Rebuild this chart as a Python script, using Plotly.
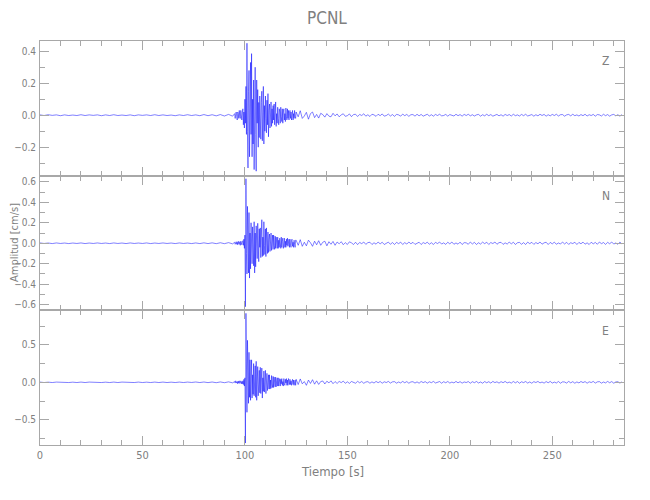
import numpy as np
import plotly.graph_objects as go
from plotly.subplots import make_subplots

# ---------------- data (cm/s) ----------------
STATION = "PCNL"
COMPONENTS = ["Z", "N", "E"]

# sampling of the three segments of each trace (start time, sample interval in s)
PRE_T0, PRE_DT = 0.0, 2.0
ACT_T0, ACT_DT = 95.0, 0.25
TAIL_T0, TAIL_DT = 125.0, 1.0

Z_PRE = [0.002, -0.002, 0.003, -0.001, 0.002, -0.003, 0.002, -0.002, 0.001, -0.002,
         0.003, -0.002, 0.002, -0.001, 0.002, -0.003, 0.002, -0.002, 0.003, -0.002,
         0.001, -0.002, 0.002, -0.003, 0.002, -0.001, 0.002, -0.002, 0.003, -0.002,
         0.002, -0.002, 0.001, -0.003, 0.002, -0.002, 0.003, -0.002, 0.002, -0.003,
         0.004, -0.003, 0.003, -0.004, 0.004, -0.005, 0.005, -0.006]
Z_ACT = [0.01, -0.02, 0.005, 0.02, -0.01, -0.03, 0.02, 0.01, -0.02, 0.03, -0.01, -0.02, 0.03, 0.01, -0.03, 0.02,
         0.04, -0.06, 0.02, -0.08,
         0.10, -0.05, 0.18, -0.12,
         0.45, -0.10, -0.33, 0.15,
         0.28, -0.26, 0.05, 0.33,
         -0.12, 0.385, -0.26, 0.10,
         -0.18, 0.22, -0.34, 0.05,
         0.30, -0.12, -0.35, 0.22,
         -0.05, 0.16, -0.20, 0.08,
         -0.14, 0.12, 0.03, -0.15,
         0.08, 0.15, -0.16, -0.04,
         0.18, -0.18, 0.06, -0.10,
         0.12, -0.02, -0.11, 0.094,
         -0.06, 0.135, -0.135, 0.03,
         0.07, -0.08, 0.02, 0.083,
         -0.07, 0.04, -0.05, 0.06,
         -0.03, 0.07, -0.06, 0.02,
         0.083, -0.07, 0.01, -0.05,
         0.05, -0.02, -0.06, 0.04,
         0.02, -0.05, 0.05, -0.01,
         -0.04, 0.04, -0.05, 0.02,
         0.04, -0.03, 0.01, -0.04,
         0.045, -0.01, -0.03, 0.04,
         -0.02, 0.03, -0.03, 0.01,
         0.03, -0.02, 0.02, -0.03,
         0.01, 0.03, -0.03, 0.01,
         -0.02, 0.03, -0.01, -0.02]
Z_TAIL = [0.02, -0.01, 0.028, -0.02, -0.005, 0.018, -0.025, 0.01, 0.02, -0.015,
          0.005, -0.018, 0.012, 0.004, -0.012, 0.01, -0.006, -0.01, 0.012, -0.004,
          0.008, -0.01, 0.002, 0.009, -0.007, -0.003, 0.008, -0.009, 0.004, 0.006,
          -0.008, 0.005, -0.002, 0.009, -0.006, 0.003, -0.008, 0.006, 0.002, -0.007,
          0.006, -0.003, 0.008, -0.006, -0.002, 0.007, -0.005, 0.004, -0.007, 0.005,
          0.002, -0.006, 0.007, -0.003, 0.005, -0.007, 0.003, 0.004, -0.006, 0.006,
          -0.004, 0.005, -0.006, 0.002, 0.006, -0.005, 0.003, -0.006, 0.005, -0.002,
          0.006, -0.004, -0.002, 0.005, -0.006, 0.004, 0.001, -0.005, 0.006, -0.003,
          0.004, -0.006, 0.005, -0.002, 0.006, -0.004, 0.003, -0.005, 0.002, 0.005,
          -0.006, 0.003, -0.004, 0.006, -0.003, 0.004, -0.006, 0.002, 0.005, -0.004,
          0.003, -0.006, 0.005, -0.002, 0.004, -0.005, 0.006, -0.003, 0.002, -0.005,
          0.005, -0.003, 0.006, -0.005, 0.002, 0.004, -0.006, 0.003, -0.004, 0.006,
          -0.002, 0.005, -0.006, 0.003, -0.004, 0.005, -0.002, 0.006, -0.005, 0.003,
          0.004, -0.006, 0.002, 0.005, -0.004, 0.006, -0.003, 0.002, -0.005, 0.004,
          -0.003, 0.006, -0.005, 0.003, -0.002, 0.005, -0.006, 0.004, 0.002, -0.005,
          0.006, -0.003, 0.004, -0.006, 0.002, 0.005, -0.004, 0.003, -0.006, 0.004]

N_PRE = [0.003, -0.002, 0.002, -0.003, 0.003, -0.002, 0.002, -0.003, 0.002, -0.002,
         0.003, -0.003, 0.002, -0.002, 0.003, -0.002, 0.002, -0.003, 0.003, -0.002,
         0.002, -0.003, 0.003, -0.002, 0.002, -0.002, 0.003, -0.003, 0.002, -0.002,
         0.003, -0.002, 0.002, -0.003, 0.003, -0.002, 0.002, -0.003, 0.003, -0.003,
         0.004, -0.003, 0.004, -0.004, 0.005, -0.004, 0.006, -0.006]
N_ACT = [0.01, -0.01, 0.005, 0.015, -0.01, 0.01, -0.015, 0.02, -0.005, -0.01, 0.015, -0.02, 0.02, -0.01, -0.015, 0.02,
         0.025, -0.02, 0.04, -0.05,
         0.08, -0.62, 0.63, -0.10,
         -0.30, 0.36, -0.05, -0.29,
         0.30, -0.34, 0.10, -0.25,
         0.20, -0.05, -0.20, 0.16,
         0.05, -0.22, 0.21, -0.29,
         0.10, -0.23, 0.17, -0.05,
         -0.15, 0.195, -0.08, -0.18,
         0.14, -0.04, 0.15, -0.14,
         0.05, 0.23, -0.13, 0.06,
         -0.12, 0.21, -0.02, -0.11,
         0.14, -0.13, 0.15, -0.04,
         -0.10, 0.11, -0.09, 0.04,
         0.09, -0.08, 0.02, 0.10,
         -0.07, 0.03, 0.08, -0.06,
         0.08, -0.02, -0.06, 0.07,
         -0.05, 0.06, -0.01, -0.05,
         0.06, -0.05, 0.03, -0.04,
         0.05, -0.02, -0.05, 0.06,
         -0.04, 0.02, 0.05, -0.05,
         0.01, 0.05, -0.04, 0.02,
         -0.04, 0.04, -0.02, 0.05,
         -0.03, 0.01, 0.04, -0.04,
         0.04, -0.02, -0.04, 0.03,
         0.04, -0.03, 0.01, -0.04,
         0.03, -0.01, -0.04, 0.03]
N_TAIL = [0.03, -0.02, 0.035, -0.03, 0.01, -0.025, 0.03, 0.005, -0.03, 0.02,
          -0.015, 0.025, -0.02, 0.01, 0.02, -0.025, 0.015, -0.01, 0.018, -0.02,
          0.012, -0.005, 0.015, -0.014, 0.006, -0.012, 0.014, 0.004, -0.012, 0.01,
          -0.013, 0.008, -0.004, 0.012, -0.011, 0.006, 0.01, -0.012, 0.005, -0.009,
          0.012, -0.006, 0.01, -0.012, 0.003, 0.011, -0.01, 0.007, -0.012, 0.009,
          -0.004, 0.011, -0.012, 0.006, -0.008, 0.012, -0.005, 0.009, -0.011, 0.004,
          0.01, -0.012, 0.007, -0.004, 0.011, -0.01, 0.005, -0.012, 0.009, -0.003,
          0.012, -0.008, 0.004, -0.011, 0.01, -0.006, 0.012, -0.01, 0.003, -0.009,
          0.011, -0.012, 0.006, 0.004, -0.01, 0.012, -0.007, 0.009, -0.012, 0.005,
          -0.008, 0.011, -0.004, 0.01, -0.012, 0.007, -0.003, 0.012, -0.01, 0.006,
          0.009, -0.011, 0.004, -0.008, 0.012, -0.006, 0.01, -0.012, 0.005, 0.008,
          -0.01, 0.006, -0.012, 0.011, -0.004, 0.009, -0.011, 0.007, -0.005, 0.012,
          -0.009, 0.004, 0.01, -0.012, 0.008, -0.006, 0.011, -0.01, 0.003, -0.008,
          0.012, -0.007, 0.009, -0.011, 0.005, -0.003, 0.01, -0.012, 0.008, -0.005,
          0.011, -0.009, 0.004, -0.012, 0.01, -0.006, 0.008, -0.01, 0.012, -0.004,
          0.007, -0.011, 0.009, -0.005, 0.012, -0.008, 0.003, -0.01, 0.011, -0.007]

E_PRE = [0.003, -0.003, 0.002, -0.003, 0.003, -0.002, 0.003, -0.003, 0.002, -0.003,
         0.003, -0.003, 0.003, -0.002, 0.003, -0.003, 0.002, -0.003, 0.003, -0.003,
         0.003, -0.002, 0.003, -0.003, 0.003, -0.003, 0.002, -0.003, 0.003, -0.003,
         0.003, -0.003, 0.002, -0.003, 0.003, -0.003, 0.003, -0.002, 0.004, -0.003,
         0.004, -0.004, 0.004, -0.005, 0.005, -0.005, 0.006, -0.007]
E_ACT = [0.01, -0.01, 0.02, 0.005, -0.01, 0.01, -0.02, 0.015, -0.01, 0.02, -0.015, -0.005, 0.02, -0.02, 0.01, -0.02,
         0.02, -0.03, 0.04, -0.05,
         0.06, -0.81, 0.92, -0.15,
         -0.40, 0.56, -0.10, -0.28,
         0.40, -0.20, 0.30, -0.24,
         0.05, 0.30, -0.21, 0.10,
         -0.16, 0.25, -0.18, 0.02,
         0.22, -0.20, 0.28, -0.24,
         0.05, 0.21, -0.18, -0.06,
         0.16, -0.14, 0.20, -0.15,
         0.03, 0.19, -0.21, 0.06,
         -0.12, 0.15, -0.13, 0.04,
         0.16, -0.15, 0.02, 0.12,
         -0.11, 0.05, 0.10, -0.09,
         0.10, -0.09, 0.03, -0.08,
         0.09, -0.02, -0.07, 0.08,
         -0.07, 0.07, -0.03, -0.06,
         0.07, -0.06, 0.02, 0.06,
         -0.05, 0.06, -0.05, 0.01,
         0.05, -0.05, 0.04, -0.02,
         0.05, -0.04, 0.01, -0.05,
         0.05, -0.02, -0.04, 0.04,
         -0.01, 0.05, -0.04, 0.03,
         -0.04, 0.05, -0.01, -0.03,
         0.04, -0.03, 0.02, -0.04,
         0.01, 0.04, -0.03, 0.03,
         -0.04, 0.02, 0.03, -0.04]
E_TAIL = [0.04, -0.03, 0.045, -0.02, 0.01, -0.04, 0.03, -0.015, 0.035, -0.025,
          0.02, -0.028, 0.01, 0.018, -0.022, 0.015, -0.008, 0.02, -0.018, 0.01,
          -0.015, 0.012, -0.004, 0.016, -0.013, 0.007, -0.014, 0.011, 0.003, -0.012,
          0.013, -0.007, 0.011, -0.013, 0.004, 0.009, -0.012, 0.006, -0.01, 0.012,
          -0.005, 0.011, -0.012, 0.007, -0.003, 0.012, -0.01, 0.006, 0.009, -0.011,
          0.004, -0.008, 0.012, -0.006, 0.01, -0.012, 0.005, 0.008, -0.01, 0.006,
          -0.012, 0.011, -0.004, 0.009, -0.011, 0.007, -0.005, 0.012, -0.009, 0.004,
          0.01, -0.012, 0.008, -0.006, 0.011, -0.01, 0.003, -0.008, 0.012, -0.007,
          0.009, -0.011, 0.005, -0.003, 0.01, -0.012, 0.008, -0.005, 0.011, -0.009,
          0.004, -0.012, 0.01, -0.006, 0.008, -0.01, 0.012, -0.004, 0.007, -0.011,
          0.009, -0.005, 0.012, -0.008, 0.003, -0.01, 0.011, -0.007, 0.01, -0.012,
          0.007, -0.004, 0.011, -0.01, 0.005, -0.012, 0.009, -0.003, 0.012, -0.008,
          0.004, -0.011, 0.01, -0.006, 0.012, -0.01, 0.003, -0.009, 0.011, -0.012,
          0.006, 0.004, -0.01, 0.012, -0.007, 0.009, -0.012, 0.005, -0.008, 0.011,
          -0.004, 0.01, -0.012, 0.007, -0.003, 0.012, -0.01, 0.006, 0.009, -0.011,
          0.004, -0.008, 0.012, -0.006, 0.01, -0.012, 0.005, 0.008, -0.01, 0.006]

TRACES = {"Z": (Z_PRE, Z_ACT, Z_TAIL), "N": (N_PRE, N_ACT, N_TAIL), "E": (E_PRE, E_ACT, E_TAIL)}

Y_RANGES = {"Z": [-0.378, 0.464], "N": [-0.655, 0.66], "E": [-0.836, 0.96]}
Y_DTICK = {"Z": 0.2, "N": 0.2, "E": 0.5}
Y_MINOR = {"Z": 0.1, "N": 0.1, "E": 0.25}
X_RANGE = [0, 285]
X_TITLE = "Tiempo [s]"
Y_TITLE = "Amplitud [cm/s]"

# ---------------- style ----------------
FONT = "Liberation Sans Narrow, DejaVu Sans Condensed, Liberation Sans, sans-serif"
AX = "#a8a8a8"
TXT = "#808080"
BLUE = "#0000ff"


def build(pre, act, tail):
    t = np.concatenate([PRE_T0 + PRE_DT * np.arange(len(pre)),
                        ACT_T0 + ACT_DT * np.arange(len(act)),
                        TAIL_T0 + TAIL_DT * np.arange(len(tail))])
    y = np.concatenate([pre, act, tail])
    return t, y


fig = make_subplots(rows=3, cols=1, shared_xaxes=True, vertical_spacing=0)

for i, comp in enumerate(COMPONENTS):
    t, y = build(*TRACES[comp])
    fig.add_trace(go.Scatter(x=t, y=y, mode="lines", line=dict(color=BLUE, width=0.5),
                             showlegend=False, hoverinfo="skip"), row=i + 1, col=1)

common = dict(showline=True, linecolor=AX, linewidth=1, mirror="ticks", ticks="inside",
              ticklen=9, tickwidth=1, tickcolor=AX, showgrid=False, zeroline=False,
              automargin=False)

for i, comp in enumerate(COMPONENTS):
    fig.update_yaxes(range=Y_RANGES[comp], dtick=Y_DTICK[comp], tick0=0, tickformat=".1f",
                     ticklabelstandoff=1, tickfont=dict(family=FONT, size=10, color=TXT),
                     minor=dict(dtick=Y_MINOR[comp], tick0=0, ticks="inside", ticklen=5,
                                tickcolor=AX, showgrid=False),
                     row=i + 1, col=1, **common)
    fig.update_xaxes(range=X_RANGE, dtick=50, tick0=0, ticklabelstandoff=0,
                     tickfont=dict(family=FONT, size=11, color=TXT),
                     minor=dict(dtick=10, tick0=0, ticks="inside", ticklen=5,
                                tickcolor=AX, showgrid=False),
                     showticklabels=(i == 2), row=i + 1, col=1, **common)

annotations = [
    dict(text=STATION, xref="paper", yref="paper", x=0.491, y=1.057, showarrow=False,
         font=dict(family=FONT, size=17, color=TXT), xanchor="center", yanchor="middle"),
    dict(text=X_TITLE, xref="paper", yref="paper", x=0.5, y=-0.066, showarrow=False,
         font=dict(family=FONT, size=13, color=TXT), xanchor="center", yanchor="middle"),
    dict(text=Y_TITLE, xref="paper", yref="paper", x=-0.0445, y=0.5, showarrow=False,
         textangle=-90, font=dict(family=FONT, size=11, color=TXT),
         xanchor="center", yanchor="middle"),
]
for i, comp in enumerate(COMPONENTS):
    ax = "y" if i == 0 else f"y{i + 1}"
    annotations.append(dict(text=comp, xref="x", yref=f"{ax} domain", x=276, y=0.85,
                            showarrow=False, font=dict(family=FONT, size=12, color=TXT),
                            xanchor="center", yanchor="middle"))

# the page body adds an 8 px offset; margins are chosen so the frame spans x 40-624, y 41-445
fig.update_layout(width=650, height=500, margin=dict(l=32, r=34, t=33, b=63),
                  paper_bgcolor="white", plot_bgcolor="white",
                  annotations=annotations, showlegend=False)

fig.write_html("out.html")
